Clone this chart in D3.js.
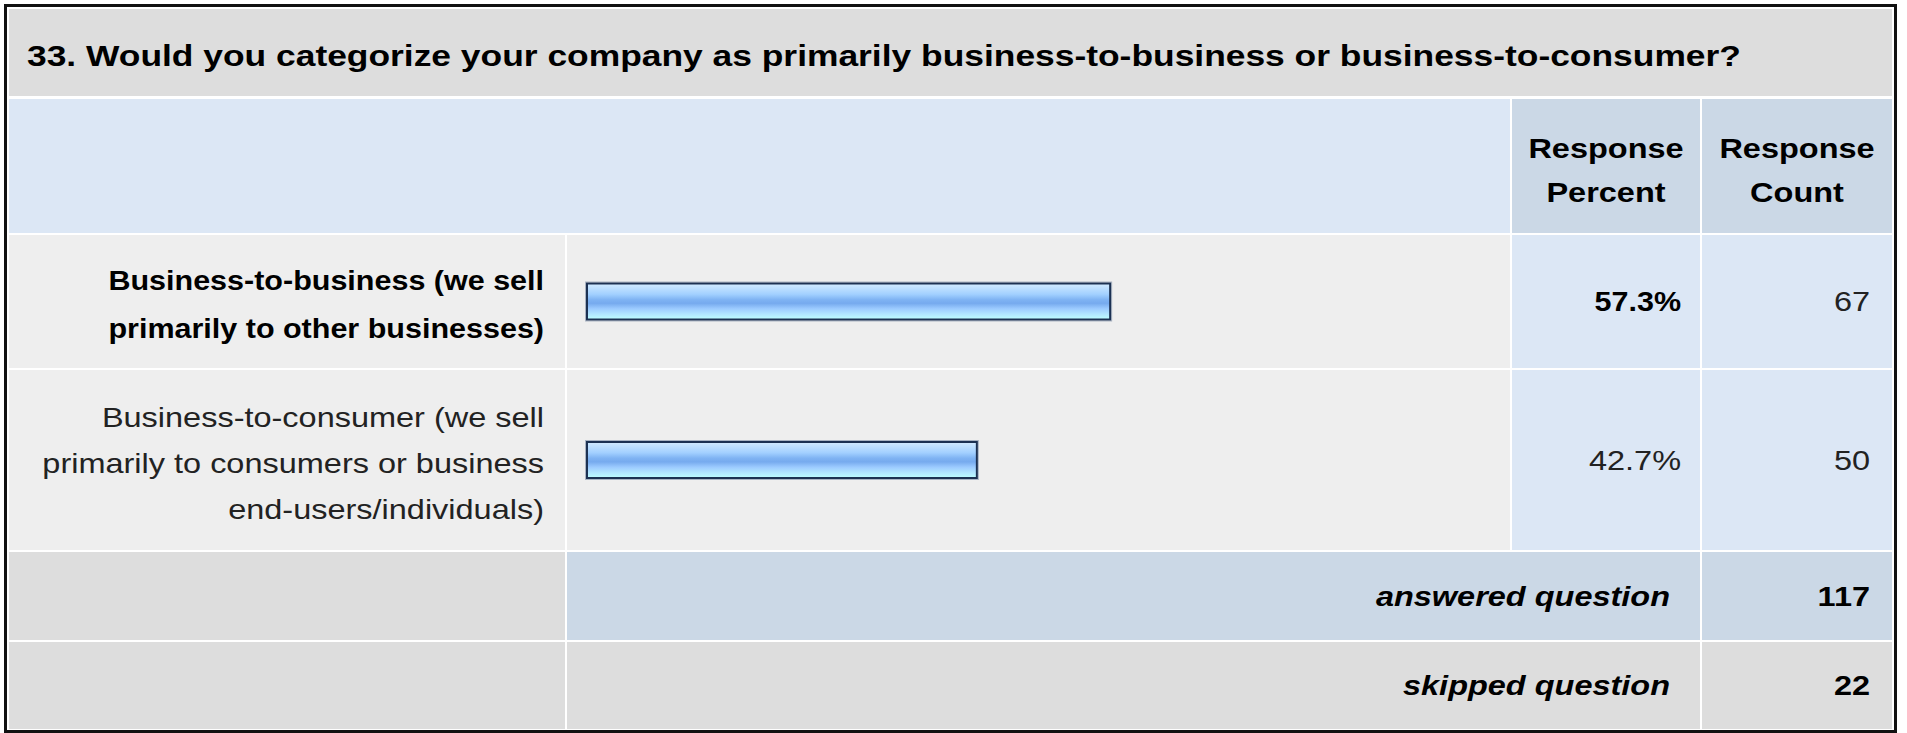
<!DOCTYPE html>
<html>
<head>
<meta charset="utf-8">
<script src="https://cdn.jsdelivr.net/npm/d3@7"></script>
<style>
  html, body { margin: 0; padding: 0; background: #ffffff; }
  svg { display: block; }
  text { font-family: "Liberation Sans", Arial, Helvetica, sans-serif; }
</style>
</head>
<body>
<svg id="chart" width="1907" height="733"></svg>
<script>
// Survey question and answers
const questionTitle = "33. Would you categorize your company as primarily business-to-business or business-to-consumer?";
const answerLabels = [
  ["Business-to-business (we sell", "primarily to other businesses)"],
  ["Business-to-consumer (we sell", "primarily to consumers or business", "end-users/individuals)"]
];
const responsePercent = [57.3, 42.7];
const responseCount = [67, 50];
const headerLabels = [["Response", "Percent"], ["Response", "Count"]];
const summaryLabels = ["answered question", "skipped question"];
const summaryCounts = [117, 22];

// Table geometry
const W = 1907, H = 733;
const colX = { labelL: 9, labelR: 565, barL: 567, barR: 1510, pctL: 1512, pctR: 1700, cntL: 1702, cntR: 1892 };
const rowY = {
  title: [9, 96], header: [99, 233],
  answers: [[235, 368], [370, 550]],
  summary: [[552, 640], [642, 729]]
};
const C = {
  gray: "#dddddd", light: "#eeeeee", blue: "#dce7f5", blueDark: "#cbd8e6", text: "#111111"
};
const FONT = 28, SX = 1.16, SX_BOLD = 1.09, LINE = 46;

const svg = d3.select("#chart");

// outer frame
svg.append("rect").attr("x", 0).attr("y", 0).attr("width", W).attr("height", H).attr("fill", "#ffffff");
svg.append("rect").attr("x", 5.5).attr("y", 5.5).attr("width", 1890).attr("height", 726)
  .attr("fill", "#ffffff").attr("stroke", "#111111").attr("stroke-width", 3);

function cell(x0, x1, y0, y1, fill) {
  svg.append("rect").attr("x", x0).attr("y", y0).attr("width", x1 - x0).attr("height", y1 - y0).attr("fill", fill);
}

function label(str, x, yc, anchor, opts = {}) {
  const size = opts.size || FONT;
  const sx = opts.sx || SX;
  svg.append("text")
    .attr("transform", `translate(${x},${yc + size * 0.355}) scale(${sx},1)`)
    .attr("text-anchor", anchor)
    .attr("font-size", size)
    .attr("font-weight", opts.bold ? "bold" : "normal")
    .attr("font-style", opts.italic ? "italic" : "normal")
    .attr("fill", opts.color || C.text)
    .text(str);
}

// title band
cell(colX.labelL, colX.cntR, rowY.title[0], rowY.title[1], C.gray);
label(questionTitle, 27, 55, "start", { bold: true, size: 30, sx: 1.18, color: "#000" });

// header row
cell(colX.labelL, colX.barR, rowY.header[0], rowY.header[1], C.blue);
cell(colX.pctL, colX.pctR, rowY.header[0], rowY.header[1], C.blueDark);
cell(colX.cntL, colX.cntR, rowY.header[0], rowY.header[1], C.blueDark);
const hc = (rowY.header[0] + rowY.header[1]) / 2 + 4;
[[colX.pctL, colX.pctR], [colX.cntL, colX.cntR]].forEach((c, i) => {
  headerLabels[i].forEach((t, j) => {
    label(t, (c[0] + c[1]) / 2, hc + (j - 0.5) * 44, "middle", { bold: true, color: "#000" });
  });
});

// bar scale and gradient
const x = d3.scaleLinear().domain([0, 100]).range([587, 1500]);
const BAR_H = 36;

const defs = svg.append("defs");
const grad = defs.append("linearGradient").attr("id", "barFill")
  .attr("x1", 0).attr("y1", 0).attr("x2", 0).attr("y2", 1);
[[0, "#d4ebff"], [0.12, "#bfe0ff"], [0.3, "#a2d0ff"], [0.45, "#7fb3f3"], [0.55, "#76aaee"],
 [0.7, "#9ccbff"], [0.85, "#b2e6ff"], [1, "#bdffff"]]
  .forEach(([o, c]) => grad.append("stop").attr("offset", o).attr("stop-color", c));

answerLabels.forEach((lines, i) => {
  const [y0, y1] = rowY.answers[i];
  const yc = (y0 + y1) / 2;
  const bold = i === 0;
  const lineGap = bold ? 48 : LINE;
  cell(colX.labelL, colX.labelR, y0, y1, C.light);
  cell(colX.barL, colX.barR, y0, y1, C.light);
  cell(colX.pctL, colX.pctR, y0, y1, C.blue);
  cell(colX.cntL, colX.cntR, y0, y1, C.blue);

  lines.forEach((t, j) => {
    label(t, 544, yc + (j - (lines.length - 1) / 2) * lineGap + 3, "end",
      { bold, sx: bold ? SX_BOLD : SX, color: bold ? "#000" : "#222" });
  });

  // bar: faint halo, then gradient body with dark outline
  svg.append("rect")
    .attr("x", x(0) - 1.5).attr("y", yc - BAR_H / 2 - 1.5)
    .attr("width", x(responsePercent[i]) - x(0) + 3).attr("height", BAR_H + 3)
    .attr("fill", "none").attr("stroke", "#a9b3c2").attr("stroke-width", 1);
  svg.append("rect")
    .attr("x", x(0)).attr("y", yc - BAR_H / 2)
    .attr("width", x(responsePercent[i]) - x(0)).attr("height", BAR_H)
    .attr("fill", "url(#barFill)").attr("stroke", "#1c3152").attr("stroke-width", 2);

  label(d3.format(".1f")(responsePercent[i]) + "%", 1681, yc, "end",
    { bold, sx: bold ? SX_BOLD : SX, color: bold ? "#000" : "#222" });
  label(String(responseCount[i]), 1870, yc, "end", { color: "#222" });
});

// summary rows
summaryLabels.forEach((t, i) => {
  const [y0, y1] = rowY.summary[i];
  const yc = (y0 + y1) / 2;
  cell(colX.labelL, colX.labelR, y0, y1, C.gray);
  cell(colX.barL, colX.pctR, y0, y1, i === 0 ? C.blueDark : C.gray);
  cell(colX.cntL, colX.cntR, y0, y1, i === 0 ? C.blueDark : C.gray);
  label(t, 1670, yc, "end", { bold: true, italic: true, color: "#000" });
  label(String(summaryCounts[i]), 1870, yc, "end", { bold: true, color: "#000" });
});
</script>
</body>
</html>
